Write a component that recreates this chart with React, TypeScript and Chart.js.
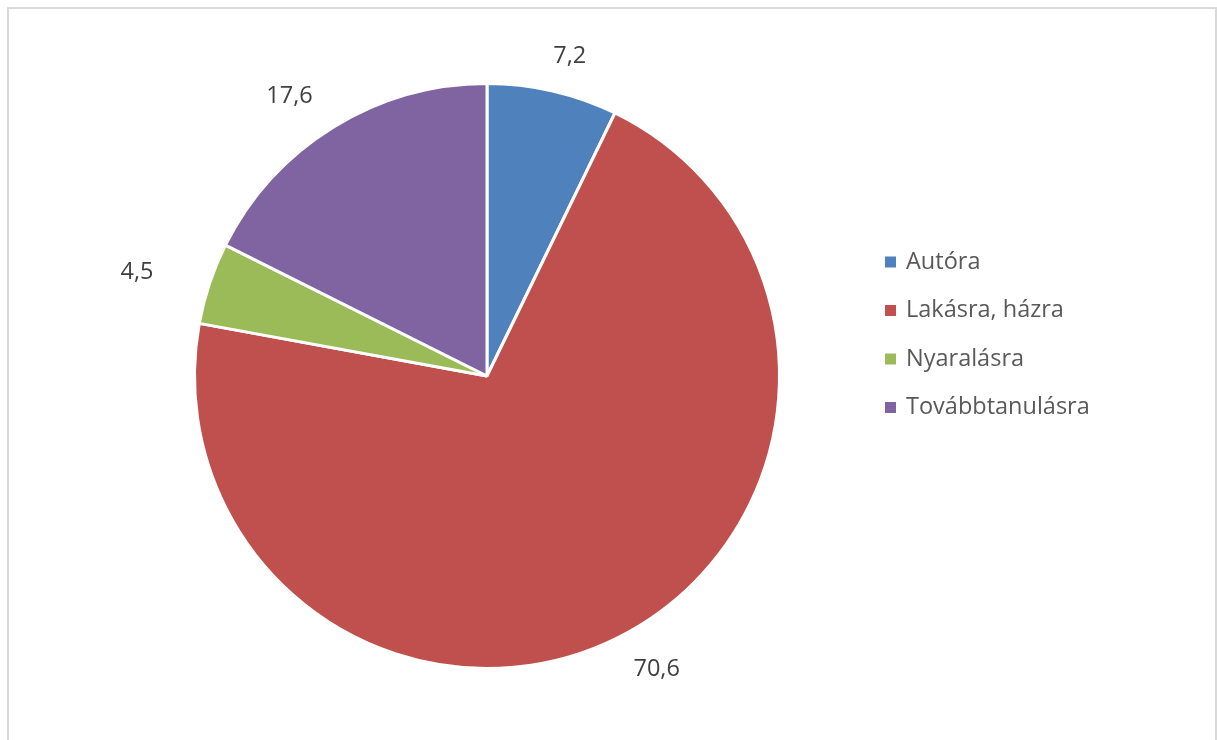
import React, { useEffect, useRef } from "react";
import { Chart, registerables } from "chart.js";

Chart.register(...registerables);

const categories = ["Autóra", "Lakásra, házra", "Nyaralásra", "Továbbtanulásra"];
const values = [7.2, 70.6, 4.5, 17.6];
const colors = ["#4F81BD", "#C0504D", "#9BBB59", "#8064A2"];

const FONT = '"Open Sans", "Liberation Sans", sans-serif';
const FONT_SIZE = 23.5;
const TEXT_COLOR = "#404040";
const LEGEND_COLOR = "#595959";

const fmt = (v: number) => v.toFixed(1).replace(".", ",");

const overlayPlugin = {
  id: "overlay",
  afterDraw(chart: any) {
    const ctx = chart.ctx as CanvasRenderingContext2D;
    const meta = chart.getDatasetMeta(0);
    ctx.save();
    ctx.font = `${FONT_SIZE}px ${FONT}`;
    ctx.textAlign = "center";
    ctx.textBaseline = "middle";
    ctx.fillStyle = TEXT_COLOR;
    meta.data.forEach((arc: any, i: number) => {
      const p = arc.getProps(["startAngle", "endAngle", "outerRadius", "x", "y"], true);
      const mid = (p.startAngle + p.endAngle) / 2;
      const c = Math.cos(mid);
      const s = Math.sin(mid);
      const text = fmt(values[i]);
      const w = ctx.measureText(text).width;
      const h = FONT_SIZE;
      const ax = p.x + c * (p.outerRadius + 60);
      const ay = p.y + s * (p.outerRadius + 24);
      ctx.fillText(text, ax + (c * w) / 2, ay + (s * h) / 2);
    });

    // legend
    const area = chart.chartArea;
    const markerX = area.right + 104;
    const textX = markerX + 21;
    const firstY = area.top + 180;
    const step = 48.5;
    const box = 11;
    ctx.textAlign = "left";
    categories.forEach((cat, i) => {
      const cy = firstY + i * step;
      ctx.fillStyle = colors[i];
      ctx.fillRect(markerX, cy - box / 2, box, box);
      ctx.fillStyle = LEGEND_COLOR;
      ctx.fillText(cat, textX, cy);
    });
    ctx.restore();
  },
};

export default function App() {
  const canvasRef = useRef<HTMLCanvasElement | null>(null);

  useEffect(() => {
    document.documentElement.style.overflow = "hidden";
    document.body.style.overflow = "hidden";
    const canvas = canvasRef.current;
    if (!canvas) return;
    const chart = new Chart(canvas, {
      type: "pie",
      data: {
        labels: categories,
        datasets: [
          {
            data: values,
            backgroundColor: colors,
            borderColor: "#ffffff",
            borderWidth: 3,
          },
        ],
      },
      options: {
        animation: false,
        responsive: true,
        maintainAspectRatio: false,
        layout: { padding: { left: 193, top: 82, right: 436, bottom: 70 } },
        plugins: {
          legend: { display: false },
          tooltip: { enabled: false },
        },
      },
      plugins: [overlayPlugin],
    });
    return () => chart.destroy();
  }, []);

  return (
    <>
      <div
        style={{
          position: "absolute",
          left: 7,
          top: 7,
          width: 1210,
          height: 800,
          border: "2px solid #d9d9d9",
          boxSizing: "border-box",
          background: "#fff",
        }}
      />
      <div style={{ position: "absolute", left: 0, top: 0, width: 1217, height: 740 }}>
        <canvas ref={canvasRef} />
      </div>
    </>
  );
}
